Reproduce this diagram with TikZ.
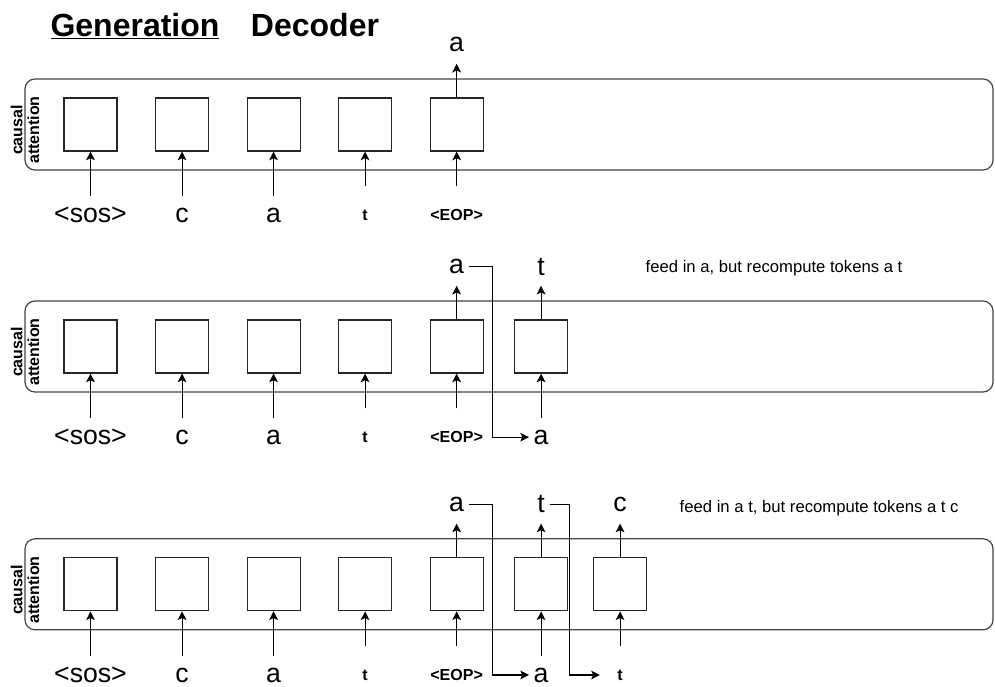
\documentclass[tikz,border=0pt]{standalone}
\usepackage{fontspec}
\setmainfont{Liberation Sans}
\usepackage{tikz}
\usetikzlibrary{arrows.meta, positioning}
\definecolor{frame}{HTML}{444444}

\begin{document}
\begin{tikzpicture}[
    x=0.75pt, y=-0.75pt,
    node distance=28.1pt,
    cell/.style={draw=black!85, line width=0.8pt, minimum size=39.75pt, inner sep=0pt},
    panel/.style={draw=frame, rounded corners=7.5pt, line width=0.9pt,
                  minimum width=726pt, minimum height=68.25pt, inner sep=0pt},
    tok/.style={font=\fontsize{20}{22}\selectfont, minimum height=28.5pt},
    toksm/.style={font=\fontsize{12}{14}\selectfont\bfseries, minimum height=42.75pt, minimum width=30pt},
    sidelbl/.style={rotate=90, align=center, font=\fontsize{12}{12.5}\selectfont\bfseries, inner sep=0pt},
    note/.style={anchor=west, font=\fontsize{12.5}{14}\selectfont},
    ttl/.style={anchor=base, font=\fontsize{24}{28}\selectfont\bfseries},
    conn/.style={-{Stealth[length=6.5pt, width=6.5pt, inset=1.5pt]}, line width=0.8pt},
    feed/.style={conn}
]
    \useasboundingbox (0,0) rectangle (995,686);
    \node[ttl] (gen) at (135,36) {\underline{Generation}};
    \node[ttl] (dec) at (315,36) {Decoder};

    % step 1
    \node[panel] (pan1) at (509,124.5) {};
    \node[sidelbl] (att1) at (25,130) {causal\\attention};
    \node[cell] (c11) at (90.5,124.5) {};
    \node[cell, right=of c11] (c12) {};
    \node[cell, right=of c12] (c13) {};
    \node[cell, right=of c13] (c14) {};
    \node[cell, right=of c14] (c15) {};
    \node[tok] (i11) at ([yshift=-68pt]c11) {<sos>};
    \node[tok] (i12) at ([yshift=-68pt]c12) {c};
    \node[tok] (i13) at ([yshift=-68pt]c13) {a};
    \node[toksm] (i14) at ([yshift=-68pt]c14) {t};
    \node[toksm] (i15) at ([yshift=-68pt]c15) {<EOP>};
    \node[tok] (o15) at ([yshift=60pt]c15) {a};

    \draw[conn] (i11) -- (c11);
    \draw[conn] (i12) -- (c12);
    \draw[conn] (i13) -- (c13);
    \draw[conn] (i14) -- (c14);
    \draw[conn] (i15) -- (c15);
    \draw[conn] (c15) -- (o15);

    % step 2
    \node[panel] (pan2) at (509,346.5) {};
    \node[sidelbl] (att2) at (25,352) {causal\\attention};
    \node[cell] (c21) at (90.5,346.5) {};
    \node[cell, right=of c21] (c22) {};
    \node[cell, right=of c22] (c23) {};
    \node[cell, right=of c23] (c24) {};
    \node[cell, right=of c24] (c25) {};
    \node[cell, right=22.8pt of c25] (c26) {};
    \node[tok] (i21) at ([yshift=-68pt]c21) {<sos>};
    \node[tok] (i22) at ([yshift=-68pt]c22) {c};
    \node[tok] (i23) at ([yshift=-68pt]c23) {a};
    \node[toksm] (i24) at ([yshift=-68pt]c24) {t};
    \node[toksm] (i25) at ([yshift=-68pt]c25) {<EOP>};
    \node[tok] (i26) at ([yshift=-68pt]c26) {a};
    \node[tok] (o25) at ([yshift=60pt]c25) {a};
    \node[tok] (o26) at ([yshift=60pt]c26) {t};
    \node[note] (note2) at (641,268) {feed in a, but recompute tokens a t};

    \draw[conn] (i21) -- (c21);
    \draw[conn] (i22) -- (c22);
    \draw[conn] (i23) -- (c23);
    \draw[conn] (i24) -- (c24);
    \draw[conn] (i25) -- (c25);
    \draw[conn] (i26) -- (c26);
    \draw[conn] (c25) -- (o25);
    \draw[conn] (c26) -- (o26);
    \draw[feed] (o25.east) -- ++(18pt,0) |- (i26);

    % step 3
    \node[panel] (pan3) at (509,584.3) {};
    \node[sidelbl] (att3) at (25,590) {causal\\attention};
    \node[cell] (c31) at (90.5,584.3) {};
    \node[cell, right=of c31] (c32) {};
    \node[cell, right=of c32] (c33) {};
    \node[cell, right=of c33] (c34) {};
    \node[cell, right=of c34] (c35) {};
    \node[cell, right=22.8pt of c35] (c36) {};
    \node[cell, right=18.7pt of c36] (c37) {};
    \node[tok] (i31) at ([yshift=-68pt]c31) {<sos>};
    \node[tok] (i32) at ([yshift=-68pt]c32) {c};
    \node[tok] (i33) at ([yshift=-68pt]c33) {a};
    \node[toksm] (i34) at ([yshift=-68pt]c34) {t};
    \node[toksm] (i35) at ([yshift=-68pt]c35) {<EOP>};
    \node[tok] (i36) at ([yshift=-68pt]c36) {a};
    \node[toksm] (i37) at ([yshift=-68pt]c37) {t};
    \node[tok] (o35) at ([yshift=60pt]c35) {a};
    \node[tok] (o36) at ([yshift=60pt]c36) {t};
    \node[tok] (o37) at ([yshift=60pt]c37) {c};
    \node[note] (note3) at (675,508) {feed in a t, but recompute tokens a t c};

    \draw[conn] (i31) -- (c31);
    \draw[conn] (i32) -- (c32);
    \draw[conn] (i33) -- (c33);
    \draw[conn] (i34) -- (c34);
    \draw[conn] (i35) -- (c35);
    \draw[conn] (i36) -- (c36);
    \draw[conn] (i37) -- (c37);
    \draw[conn] (c35) -- (o35);
    \draw[conn] (c36) -- (o36);
    \draw[conn] (c37) -- (o37);
    \draw[feed] (o35.east) -- ++(18pt,0) |- (i36);
    \draw[feed] (o36.east) -- ++(15pt,0) |- (i37);
\end{tikzpicture}
\end{document}
